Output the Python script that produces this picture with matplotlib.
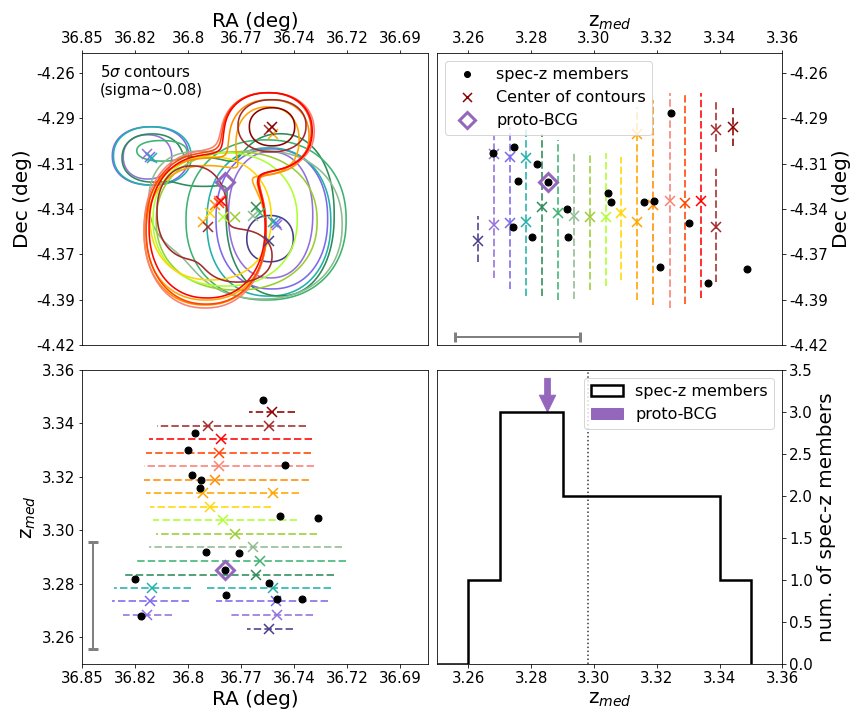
import numpy as np
import matplotlib
matplotlib.use("Agg")
import matplotlib.pyplot as plt
from matplotlib.lines import Line2D

# spec-z members (RA, Dec, z)
mem_ra = [36.8203, 36.7392, 36.7776, 36.8233, 36.7780, 36.7518, 36.7558, 36.7709, 36.7877,
          36.7312, 36.7503, 36.7906, 36.7901, 36.7478, 36.7946, 36.7966, 36.7931, 36.7588]
mem_dec = [-4.3071, -4.3036, -4.3234, -4.3136, -4.3242, -4.3507, -4.3566, -4.3399, -4.3566,
           -4.3307, -4.3356, -4.3360, -4.3352, -4.2836, -4.3739, -4.3483, -4.3837, -4.3753]
mem_z = [3.2678, 3.2744, 3.2757, 3.2819, 3.2852, 3.2742, 3.2803, 3.2915, 3.2918,
         3.3045, 3.3055, 3.3160, 3.3190, 3.3246, 3.3209, 3.3302, 3.3363, 3.3488]

# proto-BCG
bcg_ra, bcg_dec, bcg_z = 36.778, -4.3238, 3.2852

# redshift slices of the density maps
slice_z = [3.2632, 3.2683, 3.2734, 3.2784, 3.2834, 3.2885, 3.2936, 3.2987, 3.3037,
           3.3087, 3.3138, 3.3189, 3.3241, 3.3291, 3.3342, 3.3390, 3.3442]
slice_colors = ['darkslateblue', 'mediumpurple', 'mediumslateblue', 'lightseagreen', 'seagreen',
                'mediumseagreen', 'darkseagreen', 'yellowgreen', 'greenyellow', 'gold', 'orange',
                'darkorange', 'salmon', 'orangered', 'red', 'brown', 'darkred']

# contour centres (slice index, RA, Dec)
cen_slice = [0, 1, 1, 2, 2, 3, 3, 4, 5, 6, 7, 8, 9, 10, 10, 11, 12, 13, 14, 15, 15, 16]
cen_ra = [36.7558, 36.8175, 36.7521, 36.8161, 36.7524, 36.8148, 36.7541, 36.7625, 36.7608,
          36.7642, 36.7729, 36.7793, 36.7856, 36.7893, 36.7541, 36.7830, 36.7813, 36.7813,
          36.7800, 36.7866, 36.7558, 36.7546]
cen_dec = [-4.3586, -4.3075, -4.3494, -4.3093, -4.3480, -4.3097, -4.3476, -4.3386, -4.3421,
           -4.3438, -4.3448, -4.3445, -4.3425, -4.3478, -4.2957, -4.3378, -4.3354, -4.3362,
           -4.3354, -4.3503, -4.2932, -4.2920]

# 5 sigma contour of each slice, as a few blobs: (RA, Dec, half-size RA, half-size Dec)
blobs = [
    [(36.7555, -4.3574, 0.0117, 0.0136)],
    [(36.8172, -4.3093, 0.0122, 0.0130), (36.7552, -4.3434, 0.0212, 0.0371)],
    [(36.8158, -4.3087, 0.0191, 0.0171), (36.7546, -4.3458, 0.0281, 0.0412)],
    [(36.8150, -4.3087, 0.0193, 0.0171), (36.7561, -4.3476, 0.0312, 0.0436)],
    [(36.8149, -4.3099, 0.0151, 0.0141), (36.7907, -4.3181, 0.0151, 0.0083),
     (36.7504, -4.3434, 0.0272, 0.0477)],
    [(36.8104, -4.3057, 0.0121, 0.0059), (36.7575, -4.3464, 0.0403, 0.0471)],
    [(36.7595, -4.3493, 0.0403, 0.0436), (36.7958, -4.3346, 0.0201, 0.0265)],
    [(36.7723, -4.3470, 0.0405, 0.0406)],
    [(36.7781, -4.3461, 0.0363, 0.0392)],
    [(36.7854, -4.3455, 0.0305, 0.0362)],
    [(36.7877, -4.3540, 0.0302, 0.0395), (36.7565, -4.2993, 0.0156, 0.0194)],
    [(36.7882, -4.3534, 0.0307, 0.0430), (36.7555, -4.2969, 0.0196, 0.0212)],
    [(36.7882, -4.3523, 0.0307, 0.0459), (36.7560, -4.2940, 0.0227, 0.0224)],
    [(36.7877, -4.3517, 0.0302, 0.0442), (36.7565, -4.2940, 0.0217, 0.0224)],
    [(36.7872, -4.3505, 0.0292, 0.0418), (36.7560, -4.2940, 0.0217, 0.0224)],
    [(36.7948, -4.3417, 0.0176, 0.0271), (36.7716, -4.3676, 0.0171, 0.0153),
     (36.7545, -4.2910, 0.0171, 0.0153)],
    [(36.7545, -4.2916, 0.0114, 0.0112)],
]

z_err = 0.02

ra_ticks = np.linspace(36.85, 36.69, 7)
dec_ticks = np.linspace(-4.42, -4.26, 7)
ra_lim = (36.85, 36.676)
dec_lim = (-4.42, -4.248)
z_lim = (3.25, 3.36)

gra = np.linspace(36.676, 36.85, 500)
gdec = np.linspace(-4.42, -4.248, 500)
RA, DEC = np.meshgrid(gra, gdec)


def density(comps):
    f = np.zeros_like(RA)
    for ra0, dec0, a, b in comps:
        r = (np.abs((RA - ra0) / a) ** 2.2 + np.abs((DEC - dec0) / b) ** 2.2) ** (1 / 2.2)
        f += np.exp(-4.5 * (r - 1))
    return f


def merge(iv):
    iv = sorted(iv)
    out = [list(iv[0])]
    for lo, hi in iv[1:]:
        if lo <= out[-1][1]:
            out[-1][1] = max(out[-1][1], hi)
        else:
            out.append([lo, hi])
    return out


fig = plt.figure(figsize=(12, 10), dpi=72)
ax1 = fig.add_axes([0.0953, 0.5208, 0.400, 0.406])
ax2 = fig.add_axes([0.5058, 0.5208, 0.3997, 0.406])
ax3 = fig.add_axes([0.0953, 0.0778, 0.400, 0.4083])
ax4 = fig.add_axes([0.5058, 0.0778, 0.3997, 0.4083])

lab_fs = 20
tick_fs = 15

# contours + dashed extents
for k, comps in enumerate(blobs):
    c = slice_colors[k]
    cs = ax1.contour(RA, DEC, density(comps), levels=[1.0], colors=[c], linewidths=1.6)
    segs = cs.allsegs[0]
    for lo, hi in merge([(s[:, 1].min(), s[:, 1].max()) for s in segs]):
        ax2.plot([slice_z[k], slice_z[k]], [lo, hi], ls='--', color=c, lw=2, alpha=0.8)
    for lo, hi in merge([(s[:, 0].min(), s[:, 0].max()) for s in segs]):
        ax3.plot([lo, hi], [slice_z[k], slice_z[k]], ls='--', color=c, lw=2, alpha=0.8)

for i, k in enumerate(cen_slice):
    c = slice_colors[k]
    ax1.plot(cen_ra[i], cen_dec[i], 'x', color=c, ms=10, mew=1.5, zorder=4)
    ax2.plot(slice_z[k], cen_dec[i], 'x', color=c, ms=10, mew=1.5, zorder=4)
    ax3.plot(cen_ra[i], slice_z[k], 'x', color=c, ms=10, mew=1.5, zorder=4)

bcg_style = dict(marker='D', ms=13, mfc='none', mec='tab:purple', mew=3, ls='none', zorder=6)

# top left: RA-Dec
ax1.plot(bcg_ra, bcg_dec, **bcg_style)
ax1.text(0.05, 0.96, "5$\\sigma$ contours\n(sigma~0.08)", transform=ax1.transAxes,
         fontsize=15, va='top', ha='left')
ax1.set_xlim(ra_lim)
ax1.set_ylim(dec_lim)
ax1.set_xticks(ra_ticks)
ax1.set_xticklabels([str(round(v, 2)) for v in ra_ticks])
ax1.set_yticks(dec_ticks)
ax1.set_yticklabels([str(round(v, 2)) for v in dec_ticks])
ax1.xaxis.tick_top()
ax1.xaxis.set_label_position('top')
ax1.set_xlabel('RA (deg)', fontsize=lab_fs)
ax1.set_ylabel('Dec (deg)', fontsize=lab_fs)

# top right: z-Dec
ax2.plot(mem_z, mem_dec, 'o', color='k', ms=7, ls='none', zorder=5)
ax2.plot(bcg_z, bcg_dec, **bcg_style)
ax2.errorbar(3.2756, -4.415, xerr=z_err, color='gray', lw=2, capsize=5, capthick=3)
ax2.set_xlim(z_lim)
ax2.set_ylim(dec_lim)
ax2.set_yticks(dec_ticks)
ax2.set_yticklabels([str(round(v, 2)) for v in dec_ticks])
ax2.xaxis.tick_top()
ax2.xaxis.set_label_position('top')
ax2.yaxis.tick_right()
ax2.yaxis.set_label_position('right')
ax2.set_xlabel('z$_{med}$', fontsize=lab_fs)
ax2.set_ylabel('Dec (deg)', fontsize=lab_fs)
handles = [
    Line2D([], [], marker='o', color='k', ls='none', ms=6),
    Line2D([], [], marker='x', color='darkred', ls='none', ms=9, mew=1.5),
    Line2D([], [], marker='D', mfc='none', mec='tab:purple', mew=3, ms=12, ls='none'),
]
ax2.legend(handles, ['spec-z members', 'Center of contours', 'proto-BCG'],
           loc='upper left', fontsize=16)

# bottom left: RA-z
ax3.plot(mem_ra, mem_z, 'o', color='k', ms=7, ls='none', zorder=5)
ax3.plot(bcg_ra, bcg_z, **bcg_style)
ax3.errorbar(36.8445, 3.2756, yerr=z_err, color='gray', lw=2, capsize=5, capthick=3)
ax3.set_xlim(ra_lim)
ax3.set_ylim(z_lim)
ax3.set_xticks(ra_ticks)
ax3.set_xticklabels([str(round(v, 2)) for v in ra_ticks])
ax3.set_xlabel('RA (deg)', fontsize=lab_fs)
ax3.set_ylabel('z$_{med}$', fontsize=lab_fs)

# bottom right: histogram of spec-z
bins = np.round(np.arange(3.25, 3.355, 0.01), 2)
ax4.hist(mem_z, bins=bins, histtype='step', color='k', lw=2.5, label='spec-z members')
ax4.arrow(bcg_z, 3.4, 0, -0.4, width=0.0018, head_width=0.0052, head_length=0.2,
          length_includes_head=True, color='#9467bd', label='proto-BCG')
ax4.axvline(np.median(mem_z), color='k', ls=':', lw=1.5, alpha=0.8)
ax4.set_xlim(z_lim)
ax4.set_ylim(0, 3.5)
ax4.yaxis.tick_right()
ax4.yaxis.set_label_position('right')
ax4.set_xlabel('z$_{med}$', fontsize=lab_fs)
ax4.set_ylabel('num. of spec-z members', fontsize=lab_fs)
ax4.legend(loc='upper right', fontsize=16)

for ax in (ax1, ax2, ax3, ax4):
    ax.tick_params(labelsize=tick_fs)

fig.savefig('out.png', dpi=72)
